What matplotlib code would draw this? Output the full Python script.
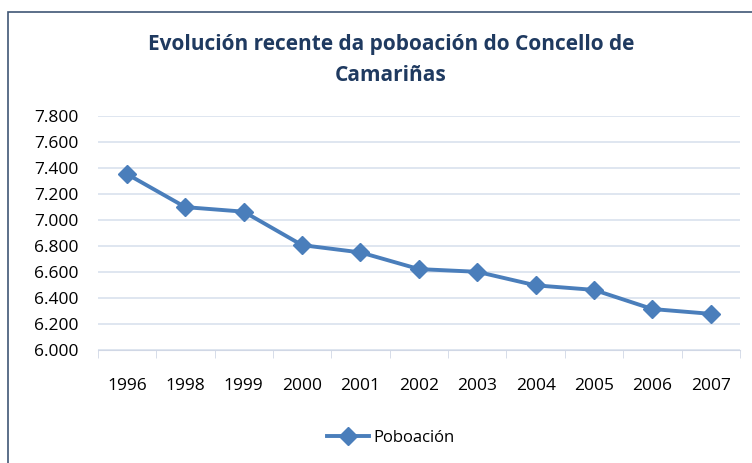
import matplotlib.pyplot as plt
from matplotlib.patches import Rectangle
from matplotlib.ticker import FuncFormatter

anos = ['1996', '1998', '1999', '2000', '2001', '2002', '2003', '2004', '2005', '2006', '2007']
poboacion = [7352, 7098, 7063, 6806, 6750, 6622, 6601, 6497, 6462, 6315, 6278]
yticks = [6000, 6200, 6400, 6600, 6800, 7000, 7200, 7400, 7600, 7800]

plt.rcParams['font.family'] = ['Open Sans', 'DejaVu Sans']

fig = plt.figure(figsize=(7.52, 4.63), dpi=100)
ax = fig.add_axes([0.130, 0.244, 0.854, 0.506])

# marco exterior do grafico
fig.patches.append(Rectangle((8 / 752, -0.1), 1.0, 1 - 12 / 463 + 0.1,
                             transform=fig.transFigure, fill=False,
                             edgecolor='#3F5675', linewidth=1.2))

x = list(range(len(anos)))
ax.plot(x, poboacion, color='#4A7EBB', linewidth=2.8, marker='D',
        markersize=9, label='Poboación')

ax.set_xlim(-0.5, len(anos) - 0.5)
ax.set_ylim(6000, 7800)
ax.set_yticks(yticks)
ax.yaxis.set_major_formatter(FuncFormatter(lambda v, p: f'{v/1000:.3f}'))
ax.set_xticks(x)
ax.set_xticklabels(anos)
ax.set_xticks([i - 0.5 for i in range(len(anos) + 1)], minor=True)
ax.tick_params(axis='x', which='major', length=0, pad=20, labelsize=12.5)
ax.tick_params(axis='x', which='minor', length=6, color='#D0D7E5')
ax.tick_params(axis='y', length=0, pad=14, labelsize=12.5)

ax.grid(axis='y', color='#D9E2EE', linewidth=1.2)
ax.set_axisbelow(True)
for s in ['top', 'right', 'left']:
    ax.spines[s].set_visible(False)
ax.spines['bottom'].set_color('#D0D7E5')

fig.text(0.52, 0.87, 'Evolución recente da poboación do Concello de\nCamariñas',
         ha='center', va='center', fontsize=15, fontweight='bold',
         color='#1F3A60', linespacing=1.6)

fig.legend(loc='center', bbox_to_anchor=(0.52, 0.054), frameon=False,
           fontsize=12, handlelength=2.5, handletextpad=0.3)

fig.savefig('out.png', dpi=100)
